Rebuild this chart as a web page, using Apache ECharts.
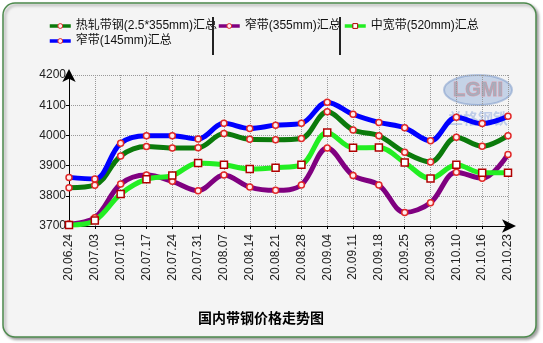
<!DOCTYPE html>
<html>
<head>
<meta charset="utf-8">
<script src="https://cdn.jsdelivr.net/npm/echarts@6/dist/echarts.min.js"></script>
<style>html,body{margin:0;padding:0;background:#fff;}#c{width:543px;height:343px;}</style>
</head>
<body>
<div id="c"></div>
<script>
var categories = ['20.06.24','20.07.03','20.07.10','20.07.17','20.07.24','20.07.31','20.08.07','20.08.14','20.08.21','20.08.28','20.09.04','20.09.11','20.09.18','20.09.25','20.09.30','20.10.10','20.10.16','20.10.23'];
var seriesNames = ['热轧带钢(2.5*355mm)汇总','窄带(355mm)汇总','中宽带(520mm)汇总','窄带(145mm)汇总'];
var hotRolled = [3827,3835,3932,3963,3958,3959,4006,3987,3986,3990,4078,4018,3999,3944,3912,3994,3964,3999];
var narrow355 = [3707,3727,3839,3869,3848,3817,3869,3829,3818,3836,3958,3867,3836,3745,3777,3878,3858,3937];
var mid520 = [3703,3718,3806,3855,3867,3909,3903,3889,3893,3903,4010,3959,3960,3910,3857,3903,3876,3876];
var narrow145 = [3861,3856,3974,3999,3999,3988,4040,4023,4034,4040,4110,4070,4043,4025,3982,4060,4039,4063];
var titleText = '国内带钢价格走势图';

var FONT = '"Liberation Sans", Arial, "Noto Sans CJK SC", sans-serif';
var chart = echarts.init(document.getElementById('c'), null, {renderer: 'canvas'});

function circleStyle() {
  return {color: '#ffeeee', borderColor: '#e02828', borderWidth: 1.5};
}
function mkSeries(name, data, color, symbol, size, itemStyle) {
  return {
    name: name, type: 'line', data: data, smooth: 0.35,
    symbol: symbol, symbolSize: size, showSymbol: true,
    lineStyle: {color: color, width: 5},
    itemStyle: Object.assign({}, itemStyle),
    emphasis: {disabled: true},
    animation: false
  };
}
function mkLegend(name, left, top) {
  return {
    data: [name], left: left, top: top, padding: 0, orient: 'horizontal',
    itemWidth: 21, itemHeight: 6, itemGap: 5,
    lineStyle: {width: 3.5},
    itemStyle: {borderWidth: 1},
    textStyle: {fontSize: 12, color: '#111', fontFamily: FONT},
    selectedMode: false
  };
}

var option = {
  backgroundColor: '#ffffff',
  animation: false,
  grid: {left: 69, right: 35, top: 75, bottom: 117},
  graphic: [
    {type: 'rect', z: -10, shape: {x: 3, y: 3, width: 533, height: 334, r: 12},
     style: {fill: '#f4f4f4', stroke: '#4d8a4d', lineWidth: 1.5, shadowBlur: 3, shadowOffsetX: 2, shadowOffsetY: 2, shadowColor: 'rgba(0,0,0,0.35)'}},
    {type: 'line', z: 5, shape: {x1: 213, y1: 17, x2: 213, y2: 55}, style: {stroke: '#222', lineWidth: 2}},
    {type: 'line', z: 5, shape: {x1: 340, y1: 17, x2: 340, y2: 55}, style: {stroke: '#222', lineWidth: 2}},
    {type: 'ellipse', z: -1, shape: {cx: 478, cy: 90, rx: 34, ry: 15},
     style: {fill: 'rgba(140,170,215,0.45)', stroke: 'rgba(120,150,200,0.5)', lineWidth: 2}},
    {type: 'text', z: -1, x: 478, y: 90,
     style: {text: 'LGMI', fill: 'rgba(160,165,180,0.8)', stroke: 'rgba(230,140,150,0.7)', lineWidth: 1,
       font: 'bold 20px "Liberation Sans", Arial', align: 'center', verticalAlign: 'middle'}},
    {type: 'text', z: -1, x: 478, y: 118,
     style: {text: '兰格钢铁', fill: 'rgba(90,130,210,0.35)', font: 'bold 15px "Noto Sans CJK SC"', align: 'center', verticalAlign: 'middle'}},
    {type: 'text', z: 5, x: 261, y: 318,
     style: {text: titleText, fill: '#000', font: 'bold 14px "Noto Sans CJK SC"', align: 'center', verticalAlign: 'middle'}}
  ],
  legend: [
    mkLegend(seriesNames[0], 48, 20),
    mkLegend(seriesNames[1], 217, 20),
    mkLegend(seriesNames[2], 343, 20),
    mkLegend(seriesNames[3], 48, 35)
  ],
  xAxis: {
    type: 'category', data: categories, boundaryGap: false,
    axisLine: {lineStyle: {color: '#000', width: 1}, symbol: ['none', 'arrow'], symbolSize: [10, 14], symbolOffset: [0, 8]},
    axisTick: {show: true, length: 3, lineStyle: {color: '#000'}, alignWithLabel: true},
    axisLabel: {rotate: 90, fontSize: 12, color: '#222', fontFamily: FONT, margin: 8, interval: 0},
    splitLine: {show: true, lineStyle: {color: '#999', type: 'dotted', width: 1}}
  },
  yAxis: {
    type: 'value', min: 3700, max: 4200, interval: 100,
    axisLine: {show: true, lineStyle: {color: '#000', width: 1}, symbol: ['none', 'arrow'], symbolSize: [10, 13], symbolOffset: [0, 6]},
    axisTick: {show: true, length: 3, lineStyle: {color: '#000'}},
    axisLabel: {fontSize: 12, color: '#222', fontFamily: FONT, margin: 3, formatter: function (v) { return String(v); }},
    splitLine: {show: true, lineStyle: {color: '#999', type: 'dotted', width: 1}}
  },
  series: [
    mkSeries(seriesNames[0], hotRolled, '#0b7a0b', 'circle', 6, circleStyle()),
    mkSeries(seriesNames[1], narrow355, '#800080', 'circle', 6, circleStyle()),
    mkSeries(seriesNames[2], mid520, '#22ee22', 'rect', 7, {color: '#ffffff', borderColor: '#b00000', borderWidth: 1.5}),
    mkSeries(seriesNames[3], narrow145, '#0000ff', 'circle', 6, circleStyle())
  ]
};
chart.setOption(option);
</script>
</body>
</html>
